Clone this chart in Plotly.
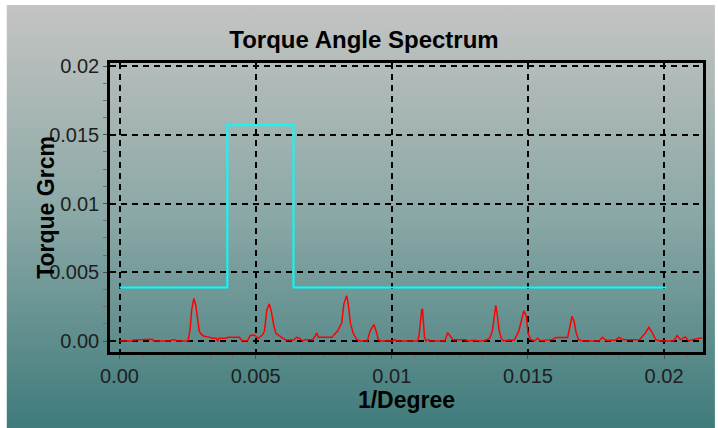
import base64
import plotly.graph_objects as go

# ---- data ----
spec_x = [0.00000, 0.00045, 0.00050, 0.00090, 0.00095, 0.00120, 0.00125, 0.00185, 0.00190, 0.00205,
          0.00210, 0.00248, 0.00252, 0.00259, 0.00265, 0.00273, 0.00280, 0.00287, 0.00293, 0.00300,
          0.00310, 0.00326, 0.00340, 0.00355, 0.00360, 0.00366, 0.00390, 0.00400, 0.00440, 0.00450,
          0.00470, 0.00480, 0.00495, 0.00510, 0.00525, 0.00532, 0.00541, 0.00550, 0.00558, 0.00566,
          0.00574, 0.00593, 0.00610, 0.00640, 0.00650, 0.00660, 0.00672, 0.00680, 0.00710, 0.00720,
          0.00724, 0.00730, 0.00780, 0.00800, 0.00816, 0.00824, 0.00834, 0.00840, 0.00848, 0.00858,
          0.00873, 0.00885, 0.00910, 0.00920, 0.00934, 0.00943, 0.00950, 0.00960, 0.01005, 0.01010,
          0.01020, 0.01095, 0.01100, 0.01106, 0.01110, 0.01113, 0.01116, 0.01120, 0.01125, 0.01135,
          0.01140, 0.01195, 0.01205, 0.01214, 0.01225, 0.01270, 0.01280, 0.01300, 0.01330, 0.01348,
          0.01360, 0.01370, 0.01376, 0.01382, 0.01388, 0.01394, 0.01402, 0.01410, 0.01430, 0.01450,
          0.01466, 0.01476, 0.01485, 0.01494, 0.01500, 0.01510, 0.01525, 0.01535, 0.01545, 0.01590,
          0.01603, 0.01646, 0.01655, 0.01662, 0.01670, 0.01677, 0.01686, 0.01700, 0.01760, 0.01774,
          0.01785, 0.01820, 0.01835, 0.01850, 0.01910, 0.01932, 0.01944, 0.01957, 0.01969, 0.01985,
          0.02035, 0.02048, 0.02060, 0.02078, 0.02090, 0.02105, 0.02130, 0.02140]
spec_y = [0.00000, 0.00000, 0.00007, 0.00007, 0.00012, 0.00012, 0.00000, 0.00000, 0.00008, 0.00008,
          0.00000, 0.00000, 0.00007, 0.00080, 0.00226, 0.00310, 0.00260, 0.00140, 0.00070, 0.00050,
          0.00035, 0.00030, 0.00020, 0.00020, 0.00002, 0.00020, 0.00020, 0.00027, 0.00027, 0.00002,
          0.00002, 0.00040, 0.00044, 0.00020, 0.00045, 0.00070, 0.00226, 0.00270, 0.00210, 0.00120,
          0.00056, 0.00030, 0.00007, 0.00007, 0.00027, 0.00020, 0.00000, 0.00010, 0.00010, 0.00040,
          0.00060, 0.00027, 0.00027, 0.00070, 0.00130, 0.00270, 0.00330, 0.00270, 0.00130, 0.00056,
          0.00007, 0.00000, 0.00000, 0.00070, 0.00120, 0.00070, 0.00010, 0.00000, 0.00000, 0.00010,
          0.00000, 0.00000, 0.00040, 0.00150, 0.00230, 0.00230, 0.00150, 0.00030, 0.00000, 0.00010,
          0.00000, 0.00000, 0.00060, 0.00040, 0.00010, 0.00010, 0.00000, 0.00005, 0.00000, 0.00008,
          0.00020, 0.00080, 0.00180, 0.00260, 0.00180, 0.00080, 0.00020, 0.00000, 0.00008, 0.00005,
          0.00070, 0.00150, 0.00220, 0.00180, 0.00060, 0.00010, 0.00002, 0.00020, 0.00002, 0.00010,
          0.00025, 0.00025, 0.00100, 0.00180, 0.00140, 0.00060, 0.00010, 0.00000, 0.00000, 0.00027,
          0.00005, 0.00005, 0.00027, 0.00010, 0.00010, 0.00060, 0.00100, 0.00060, 0.00010, 0.00000,
          0.00000, 0.00040, 0.00010, 0.00030, 0.00000, 0.00010, 0.00020, 0.00020]

limit_x = [0.00000, 0.00396, 0.00396, 0.00639, 0.00639, 0.02008]
limit_y = [0.0039, 0.0039, 0.0157, 0.0157, 0.0039, 0.0039]

x_ticks = [0.0, 0.005, 0.01, 0.015, 0.02]
x_ticktext = ["0.00", "0.005", "0.01", "0.015", "0.02"]
y_ticks = [0.0, 0.005, 0.01, 0.015, 0.02]
y_ticktext = ["0.00", "0.005", "0.01", "0.015", "0.02"]

title_text = "Torque Angle Spectrum"
x_title = "1/Degree"
y_title = "Torque Grcm"

# ---- figure ----
W, H = 718, 428
L, R, T, B = 110, 12, 63, 76

svg = ('<svg xmlns="http://www.w3.org/2000/svg" width="712" height="423" preserveAspectRatio="none">'
       '<defs><linearGradient id="g" x1="0" y1="0" x2="0" y2="1">'
       '<stop offset="0" stop-color="#c4c4c2"/>'
       '<stop offset="0.5" stop-color="#8aa8a6"/>'
       '<stop offset="1" stop-color="#3f7b7b"/>'
       '</linearGradient></defs><rect width="712" height="423" fill="url(#g)"/></svg>')
src = "data:image/svg+xml;base64," + base64.b64encode(svg.encode()).decode()

pw, ph = W - L - R, H - T - B

fig = go.Figure()
fig.add_trace(go.Scatter(x=limit_x, y=limit_y, mode="lines",
                         line=dict(color="#00ffff", width=2), showlegend=False, hoverinfo="skip"))
fig.add_trace(go.Scatter(x=spec_x, y=spec_y, mode="lines",
                         line=dict(color="#ff0000", width=1.5), showlegend=False))

font_family = "Liberation Sans, Arial, sans-serif"

fig.update_layout(
    width=W, height=H,
    margin=dict(l=L, r=R, t=T, b=B),
    paper_bgcolor="white",
    plot_bgcolor="rgba(0,0,0,0)",
    font=dict(family=font_family, color="#1e1e1e"),
    title=dict(text="<b>" + title_text + "</b>", x=364 / W, xref="container", xanchor="center",
               y=1 - 40 / H, yref="container", yanchor="middle",
               font=dict(size=24, color="black", family=font_family)),
    images=[dict(source=src, xref="paper", yref="paper",
                 x=(6 - L) / pw, y=(H - B - 5) / ph,
                 sizex=(W - 6) / pw, sizey=(H - 5) / ph,
                 xanchor="left", yanchor="top", sizing="stretch", layer="below")],
    annotations=[dict(text="<b>" + y_title + "</b>", textangle=-90, showarrow=False,
                      xref="paper", yref="paper", x=(45 - L) / pw, y=0.5,
                      xanchor="center", yanchor="middle",
                      font=dict(size=23, color="black", family=font_family))],
)

axis_common = dict(
    showline=True, mirror=True, linecolor="black", linewidth=2.5,
    showgrid=True, gridcolor="black", gridwidth=1.8, griddash="6px,5px",
    zeroline=False, ticks="outside", ticklen=4, tickcolor="#505050", tickwidth=1,
    tickfont=dict(size=20, color="#1e1e1e", family=font_family),
)

fig.update_xaxes(
    range=[-0.00035, 0.02143], tickvals=x_ticks, ticktext=x_ticktext,
    title=dict(text="<b>" + x_title + "</b>", font=dict(size=23, color="black", family=font_family), standoff=5),
    minor=dict(dtick=0.005 / 6, tick0=0, ticks="outside", ticklen=4, tickcolor="#707070", showgrid=False),
    **axis_common,
)
fig.update_yaxes(
    range=[-0.0008, 0.02022], tickvals=y_ticks, ticktext=y_ticktext,
    minor=dict(dtick=0.00125, tick0=0, ticks="outside", ticklen=4, tickcolor="#707070", showgrid=False),
    **axis_common,
)

fig.write_html("out.html")
